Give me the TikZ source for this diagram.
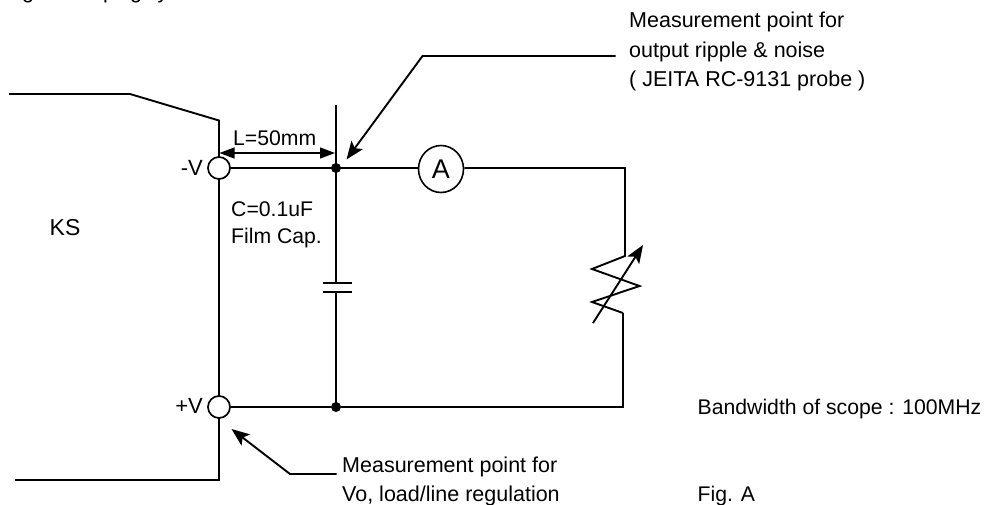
\documentclass[tikz,border=0pt]{standalone}
\usepackage{fontspec}
\setmainfont{Liberation Sans}
\usetikzlibrary{arrows.meta,shapes.geometric}
\tikzset{
  wire/.style={line width=1.9pt,line join=miter,black},
  leader/.style={wire,-{Stealth[length=18pt,width=14pt,inset=4pt]}},
  dimline/.style={line width=1.3pt,{Stealth[length=15pt,width=11pt,inset=0pt]}-{Stealth[length=15pt,width=11pt,inset=0pt]}},
  terminal/.style={circle,draw,line width=1.7pt,fill=white,minimum size=22pt,inner sep=0pt},
  dot/.style={circle,fill=black,minimum size=10pt,inner sep=0pt},
  meter/.style={ellipse,draw,line width=1.6pt,minimum width=45pt,minimum height=47pt,inner sep=0pt,font=\fontsize{27}{27}\selectfont},
  lab/.style={anchor=base west,inner sep=0pt,font=\fontsize{21.2}{21.2}\selectfont},
  note/.style={anchor=base west,inner sep=0pt,font=\fontsize{21.5}{21.5}\selectfont},
  rlab/.style={anchor=base east,inner sep=0pt,font=\fontsize{22}{22}\selectfont},
}
\begin{document}
\begin{tikzpicture}[x=1pt,y=-1pt]
\useasboundingbox (0,0) rectangle (986,504);
\begin{scope}
\clip (0,0) rectangle (986,20);
\node[note,anchor=base] (f1) at (28,-1.5) {g};
\node[note,anchor=base] (f2) at (109,-1.5) {p};
\node[note,anchor=base] (f3) at (136,-1.5) {g};
\node[note,anchor=base] (f4) at (163,-1.5) {y};
\end{scope}
% source outline
\coordinate (kA) at (9,94);
\coordinate (kB) at (130,94);
\coordinate (kC) at (219,120.5);
\coordinate (kD) at (219,480);
\coordinate (kE) at (15,480);
\draw[wire] (kA) -- (kB) -- (kC) -- (kD) -- (kE);
% circuit
\coordinate (top) at (336,105);
\coordinate (bot) at (336,407);
\coordinate (j1) at (336,168);
\coordinate (c1) at (336,283);
\coordinate (c2) at (336,292);
\coordinate (cl1) at (323,283);
\coordinate (cr1) at (352,283);
\coordinate (cl2) at (323,292);
\coordinate (cr2) at (352,292);
\coordinate (r0) at (625,168);
\coordinate (r1) at (625,256);
\coordinate (r2) at (592,269);
\coordinate (r3) at (639.5,286);
\coordinate (r4) at (592,302);
\coordinate (r5) at (623,313);
\coordinate (r6) at (623,407);
\coordinate (ra) at (593,323);
\coordinate (rb) at (643,245);
\draw[wire] (top) -- (c1);
\draw[wire] (c2) -- (bot);
\draw[wire] (cl1) -- (cr1);
\draw[wire] (cl2) -- (cr2);
\node[meter] (A) at (441,169) {A};
\node[terminal] (tm) at (219,168) {};
\node[terminal] (tp) at (219,407) {};
\node[dot] (d1) at (j1) {};
\node[dot] (d2) at (bot) {};
\draw[wire] (tm) -- (d1) -- (A.west |- d1);
\draw[wire] (A.east |- r0) -- (r0) -- (r1) -- (r2) -- (r3) -- (r4) -- (r5);
\draw[wire] (r5) -- (r6) -- (d2) -- (tp);
\draw[leader] (ra) -- (rb);
% dimension
\coordinate (dL) at (219.5,153);
\coordinate (dR) at (335,153);
\draw[dimline] (dL) -- (dR);
% leaders
\coordinate (u0) at (615.5,56);
\coordinate (u1) at (422.5,56);
\coordinate (u2) at (346.5,159.5);
\draw[leader] (u0) -- (u1) -- (u2);
\coordinate (l0) at (336.5,474);
\coordinate (l1) at (290,474);
\coordinate (l2) at (231.5,429);
\draw[leader] (l0) -- (l1) -- (l2);
% labels
\node[lab] (tL) at (233,145) {L=50mm};
\node[rlab] (tmV) at (203,175.5) {-V};
\node[rlab] (tpV) at (203,413.5) {+V};
\node[lab] (tC) at (231,216) {C=0.1uF};
\node[lab] (tF) at (231,243) {Film Cap.};
\node[anchor=base west,inner sep=0pt,font=\fontsize{23}{23}\selectfont] (tK) at (49.5,235) {KS};
\node[note] (n1) at (629,27) {Measurement point for};
\node[note] (n2) at (629,57) {output ripple \& noise};
\node[note] (n3) at (629,86) {( JEITA RC-9131 probe )};
\node[note] (m1) at (342,472.5) {Measurement point for};
\node[note] (m2) at (342,501.5) {Vo, load/line regulation};
\node[lab] (b1) at (697.5,414) {Bandwidth of scope : 100MHz};
\node[lab] (b2) at (697.5,501.5) {Fig. A};
\end{tikzpicture}
\end{document}
